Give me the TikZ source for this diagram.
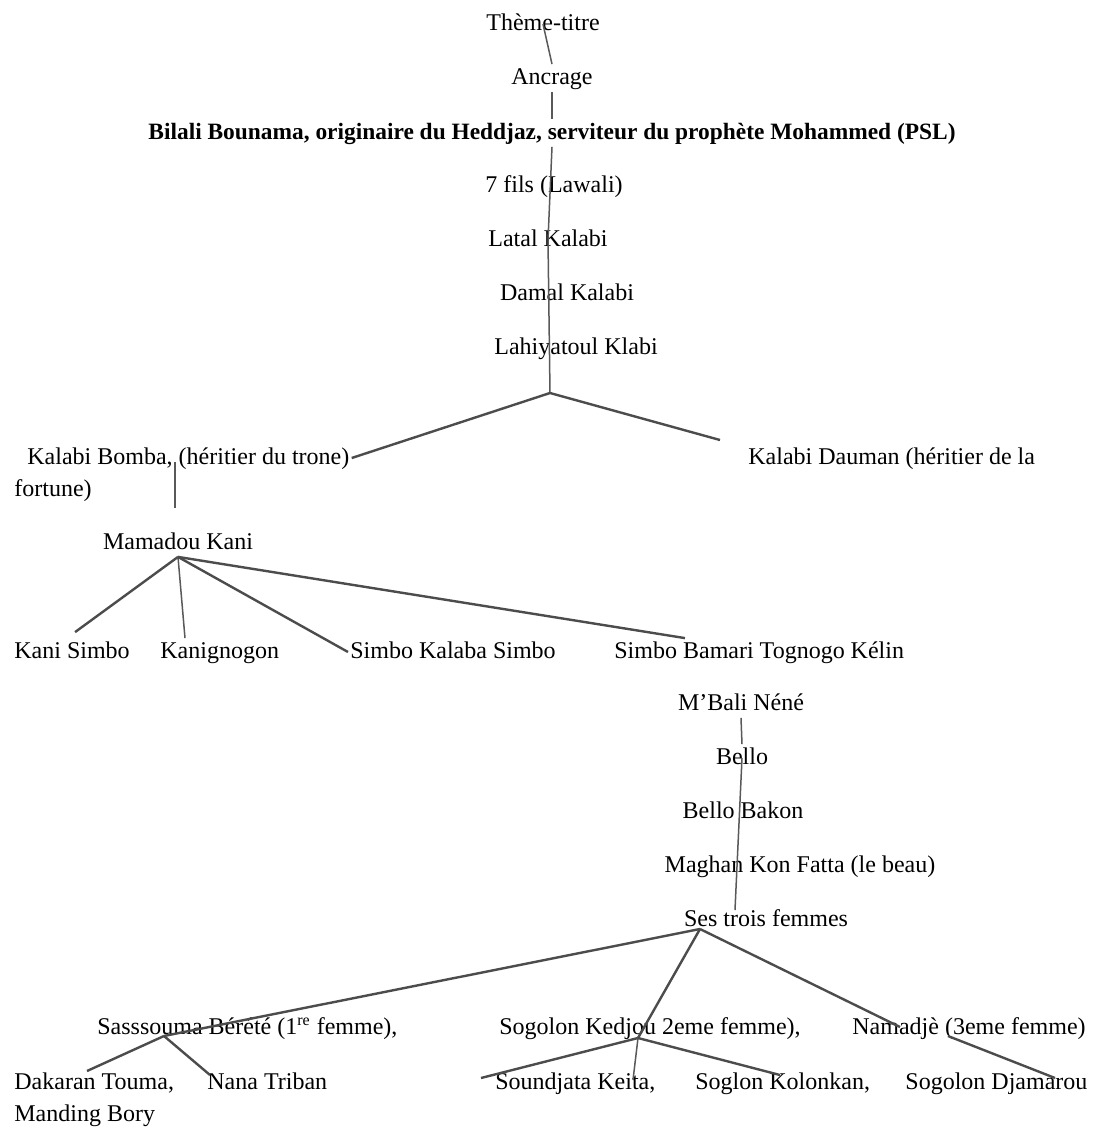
\documentclass[tikz,border=0pt]{standalone}
\usepackage{fontspec}
\setmainfont{Liberation Serif}
\usetikzlibrary{calc}

\tikzset{
  person/.style={inner sep=1pt,text height=9pt,text depth=2.5pt,
    font=\fontsize{12}{14}\selectfont},
  trunk/.style={draw=black!65,line width=0.75pt},
  branch/.style={draw=black!70,line width=1.2pt}
}

\begin{document}
\begin{tikzpicture}[x=0.5pt,y=-0.5pt]
  \useasboundingbox[fill=white] (0,0) rectangle (1099,1131);

  \node[person] (titre)   at (543,24)  {Thème-titre};
  \node[person] (ancrage) at (552,78)  {Ancrage};
  \node[person,font=\fontsize{11.7}{14}\selectfont\bfseries] (bilali) at (552,133)
    {Bilali Bounama, originaire du Heddjaz, serviteur du prophète Mohammed (PSL)};
  \node[person] (fils)    at (554,186) {7 fils (Lawali)};
  \node[person] (latal)   at (548,240) {Latal Kalabi};
  \node[person] (damal)   at (567,294) {Damal Kalabi};
  \node[person] (lahi)    at (576,348) {Lahiyatoul Klabi};

  \node[person,anchor=west] (bomba)   at (25,458)  {Kalabi Bomba, (héritier du trone)};
  \node[person,anchor=west] (fortune) at (12,490)  {fortune)};
  \node[person,anchor=west] (dauman)  at (746,458) {Kalabi Dauman (héritier de la};

  \node[person] (mamadou) at (178,543) {Mamadou Kani};
  \node[person,anchor=west] (kanisimbo)  at (12,652)  {Kani Simbo};
  \node[person,anchor=west] (kanignogon) at (158,652) {Kanignogon};
  \node[person,anchor=west] (kalaba)     at (348,652) {Simbo Kalaba Simbo};
  \node[person,anchor=west] (bamari)     at (612,652) {Simbo Bamari Tognogo Kélin};

  \node[person] (mbali)  at (741,704) {M’Bali Néné};
  \node[person] (bello)  at (742,758) {Bello};
  \node[person] (bakon)  at (743,812) {Bello Bakon};
  \node[person] (maghan) at (800,866) {Maghan Kon Fatta (le beau)};
  \node[person] (femmes) at (766,920) {Ses trois femmes};

  \node[person,anchor=west] (sassouma) at (95,1028)  {Sasssouma Bérété (1\textsuperscript{re} femme),};
  \node[person,anchor=west] (kedjou)   at (497,1028) {Sogolon Kedjou 2eme femme),};
  \node[person,anchor=west] (namadje)  at (850,1028) {Namadjè (3eme femme)};

  \node[person,anchor=west] (dakaran)   at (12,1083)  {Dakaran Touma,};
  \node[person,anchor=west] (nana)      at (205,1083) {Nana Triban};
  \node[person,anchor=west] (manding)   at (12,1115)  {Manding Bory};
  \node[person,anchor=west] (soundjata) at (493,1083) {Soundjata Keita,};
  \node[person,anchor=west] (kolonkan)  at (693,1083) {Soglon Kolonkan,};
  \node[person,anchor=west] (djamarou)  at (903,1083) {Sogolon Djamarou};

  \coordinate (fork)    at (550,393);
  \coordinate (daumanend) at (720,440);
  \coordinate (kanitop) at (175,508);
  \coordinate (femtop)  at (735,910);
  \coordinate (femhub)  at (700,929);
  \coordinate (hub1)    at (164,1036);
  \coordinate (hub2)    at (638,1038);
  \coordinate (hub3)    at (900,1027);
  \coordinate (hub4)    at (948,1036);

  \draw[trunk] (titre.center) -- (ancrage.north);
  \draw[trunk] (ancrage.south) -- (bilali.north);
  \draw[trunk] (bilali.south) -- (latal.center) -- (fork);
  \draw[branch] (bomba.east) -- (fork) -- (daumanend);
  \draw[trunk] ($(bomba.center -| kanitop)+(0,4)$) -- (kanitop);

  \draw[branch] (mamadou.south) -- ($(kanisimbo.north)+(3,-6)$);
  \draw[trunk] (mamadou.south) -- ($(kanignogon.north west)+(27,0)$);
  \draw[branch] (mamadou.south) -- (kalaba.west);
  \draw[branch] (mamadou.south) -- ($(bamari.north west)+(73,0)$);

  \draw[trunk] (mbali.south) -- (bello.north);
  \draw[trunk] (bello.center) -- (femtop);

  \draw[branch] (femhub) -- (hub1);
  \draw[branch] (femhub) -- (hub2);
  \draw[branch] (femhub) -- (hub3);
  \draw[branch] (hub1) -- ($(dakaran.west)+(75,-12)$);
  \draw[branch] (hub1) -- ($(nana.west)+(5,-8)$);
  \draw[branch] (hub2) -- ($(soundjata.west)+(-12,-5)$);
  \draw[trunk] (hub2) -- ($(soundjata.west)+(140,-3)$);
  \draw[branch] (hub2) -- ($(kolonkan.west)+(87,-8)$);
  \draw[branch] (hub4) -- ($(djamarou.west)+(152,-5)$);
\end{tikzpicture}
\end{document}
